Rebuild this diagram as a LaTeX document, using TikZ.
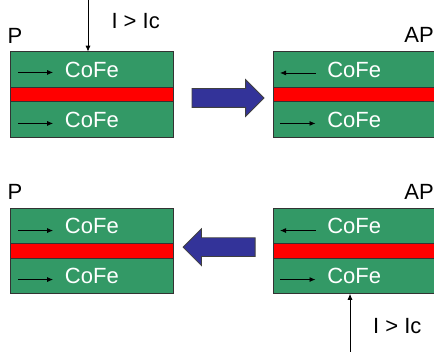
\documentclass[tikz,border=0pt]{standalone}
\usepackage{fontspec}
\setmainfont{Liberation Sans}
\usepackage{xcolor}
\usetikzlibrary{arrows.meta,positioning,shapes.arrows}

\definecolor{cofegreen}{RGB}{51,153,102}
\definecolor{bigblue}{RGB}{51,51,153}

\tikzset{
	fm/.style={draw=black!80, line width=0.8pt, fill=cofegreen, text=white,
		minimum width=162.5pt, minimum height=35.5pt, inner sep=0pt, outer sep=0pt,
		font=\fontsize{22}{24}\selectfont},
	spacer/.style={draw=black!80, line width=0.8pt, fill=red,
		minimum width=162.5pt, minimum height=14.5pt, inner sep=0pt, outer sep=0pt},
	lbl/.style={inner sep=0pt, font=\fontsize{22}{24}\selectfont},
	spin/.style={-{Latex[length=6pt,width=5pt]}, line width=0.8pt},
	flip/.style={single arrow, draw=black!75, line width=0.8pt, fill=bigblue,
		minimum height=72pt, inner xsep=0pt, inner ysep=9pt,
		single arrow head extend=9pt}
}

\begin{document}
\begin{tikzpicture}[x=1pt,y=-1pt]
	\useasboundingbox (0,0) rectangle (434,352);
	% top row
	\node[fm] at (91.85,69.45) (p1t) {CoFe};
	\node[spacer, below=0pt of p1t] (p1m) {};
	\node[fm, below=0pt of p1m] (p1b) {CoFe};
	\node[fm] at (354.25,69.45) (ap1t) {CoFe};
	\node[spacer, below=0pt of ap1t] (ap1m) {};
	\node[fm, below=0pt of ap1m] (ap1b) {CoFe};
	\node[lbl, anchor=base west] at (7.5,43.3) (p1) {P};
	\node[lbl, anchor=base east] at (434,42.7) (ap1) {AP};
	\draw [spin] ([xshift=7.5pt, yshift=-3pt] p1t.west) -- ([xshift=42.5pt, yshift=-3pt] p1t.west);
	\draw [spin] ([xshift=7.5pt, yshift=-4pt] p1b.west) -- ([xshift=42.5pt, yshift=-4pt] p1b.west);
	\draw [spin] ([xshift=42.5pt, yshift=-3.5pt] ap1t.west) -- ([xshift=7pt, yshift=-3.5pt] ap1t.west);
	\draw [spin] ([xshift=7pt, yshift=-4pt] ap1b.west) -- ([xshift=42.5pt, yshift=-4pt] ap1b.west);
	\coordinate (i1) at (88,0);
	\draw [spin] (i1) -- (i1 |- p1t.north);
	\node[lbl, anchor=base west] at (111.3,28.3) (ic1) {I > Ic};
	\node[flip] at (223.3,98) (go) {};
	% bottom row
	\node[fm] at (91.85,226.05) (p2t) {CoFe};
	\node[spacer, below=0pt of p2t] (p2m) {};
	\node[fm, below=0pt of p2m] (p2b) {CoFe};
	\node[fm] at (354.25,226.05) (ap2t) {CoFe};
	\node[spacer, below=0pt of ap2t] (ap2m) {};
	\node[fm, below=0pt of ap2m] (ap2b) {CoFe};
	\node[lbl, anchor=base west] at (7.5,199.3) (p2) {P};
	\node[lbl, anchor=base east] at (434,200) (ap2) {AP};
	\draw [spin] ([xshift=7.5pt, yshift=-4.5pt] p2t.west) -- ([xshift=42.5pt, yshift=-4.5pt] p2t.west);
	\draw [spin] ([xshift=7.5pt, yshift=-3.5pt] p2b.west) -- ([xshift=42.5pt, yshift=-3.5pt] p2b.west);
	\draw [spin] ([xshift=42.5pt, yshift=-4.5pt] ap2t.west) -- ([xshift=7pt, yshift=-4.5pt] ap2t.west);
	\draw [spin] ([xshift=7pt, yshift=-3.5pt] ap2b.west) -- ([xshift=42.5pt, yshift=-3.5pt] ap2b.west);
	\coordinate (i2) at (350,352);
	\draw [spin] (i2) -- (i2 |- ap2b.south);
	\node[lbl, anchor=base west] at (373,334) (ic2) {I > Ic};
	\node[flip, shape border rotate=180] at (223.8,247.2) (back) {};
\end{tikzpicture}
\end{document}
